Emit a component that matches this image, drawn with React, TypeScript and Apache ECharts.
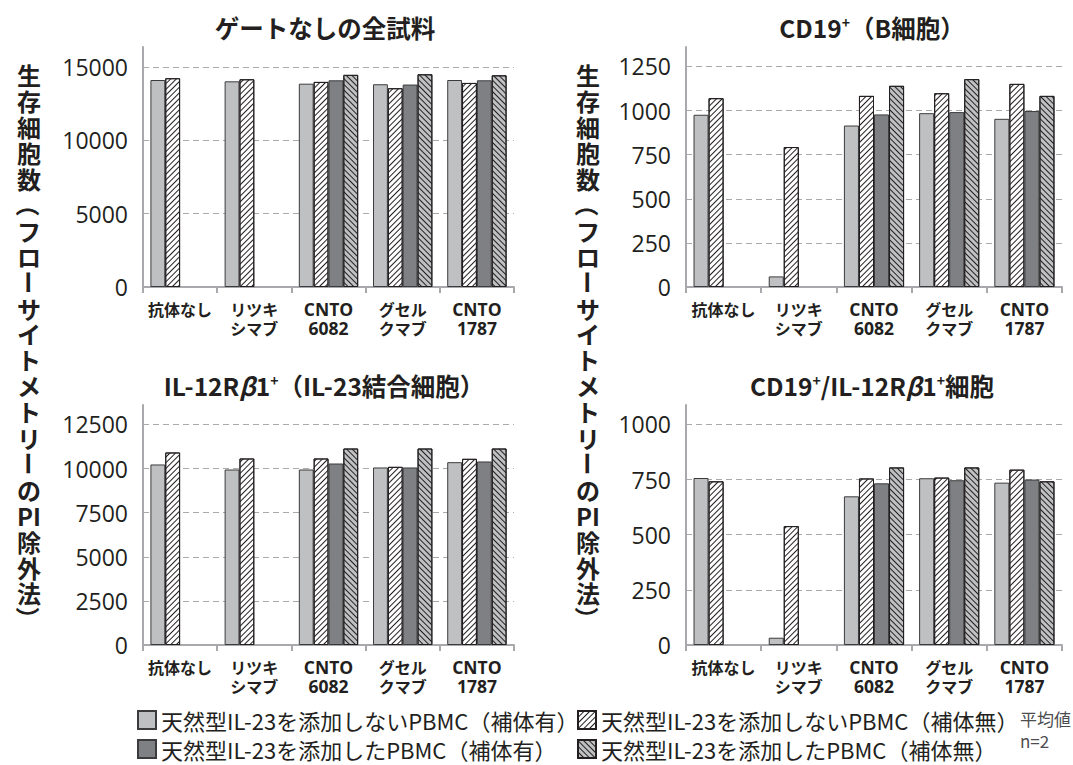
import React, { useEffect, useRef } from 'react';
import * as echarts from 'echarts';

// ---------- data ----------
const categories = ['抗体なし', 'リツキ\nシマブ', 'CNTO\n6082', 'グセル\nクマブ', 'CNTO\n1787'];

const seriesNames = [
  '天然型IL-23を添加しないPBMC（補体有）',
  '天然型IL-23を添加しないPBMC（補体無）',
  '天然型IL-23を添加したPBMC（補体有）',
  '天然型IL-23を添加したPBMC（補体無）',
];

const panelTitles = [
  'ゲートなしの全試料',
  'CD19{sup|+}（B細胞）',
  'IL-12R{b|β}1{sup|+}（IL-23結合細胞）',
  'CD19{sup|+}/IL-12R{b|β}1{sup|+}細胞',
];

// Panel 1: ゲートなしの全試料
const allNoIL23Comp = [14110, 14020, 13860, 13820, 14110];
const allNoIL23NoComp = [14230, 14160, 13980, 13550, 13910];
const allIL23Comp = [null, null, 14090, 13800, 14090];
const allIL23NoComp = [null, null, 14460, 14500, 14430];

// Panel 2: CD19+ (B細胞)
const cd19NoIL23Comp = [976, 60, 915, 985, 953];
const cd19NoIL23NoComp = [1070, 793, 1083, 1098, 1151];
const cd19IL23Comp = [null, null, 978, 991, 997];
const cd19IL23NoComp = [null, null, 1140, 1178, 1083];

// Panel 3: IL-12Rβ1+ (IL-23結合細胞)
const il12NoIL23Comp = [10230, 9945, 9945, 10060, 10360];
const il12NoIL23NoComp = [10910, 10570, 10570, 10095, 10550];
const il12IL23Comp = [null, null, 10285, 10060, 10400];
const il12IL23NoComp = [null, null, 11135, 11135, 11135];

// Panel 4: CD19+/IL-12Rβ1+細胞
const dblNoIL23Comp = [757, 33, 674, 756, 736];
const dblNoIL23NoComp = [742, 539, 755, 759, 795];
const dblIL23Comp = [null, null, 733, 747, 750];
const dblIL23NoComp = [null, null, 805, 805, 742];

const yMax = [16360, 1360, 13600, 1088];
const yInterval = [5000, 250, 2500, 250];

// vertical axis name, one entry per line (true = glyph rotated for vertical writing)
const yAxisName: [string, boolean][] = [
  ['生', false], ['存', false], ['細', false], ['胞', false], ['数', false],
  ['（', true], ['フ', false], ['ロ', false], ['ー', true], ['サ', false],
  ['イ', false], ['ト', false], ['メ', false], ['ト', false], ['リ', false],
  ['ー', true], ['の', false], ['PI', false], ['除', false], ['外', false],
  ['法', false], ['）', true],
];

const panelData = [
  [allNoIL23Comp, allNoIL23NoComp, allIL23Comp, allIL23NoComp],
  [cd19NoIL23Comp, cd19NoIL23NoComp, cd19IL23Comp, cd19IL23NoComp],
  [il12NoIL23Comp, il12NoIL23NoComp, il12IL23Comp, il12IL23NoComp],
  [dblNoIL23Comp, dblNoIL23NoComp, dblIL23Comp, dblIL23NoComp],
];

// ---------- layout / style ----------
const FONT = '"Noto Sans CJK JP", "Noto Sans", sans-serif';
const LATIN = '"Open Sans", "Noto Sans CJK JP", sans-serif';
const TEXT = '#231f20';
const AXIS = '#a7a9ac';

const grids = [
  { left: 143, top: 47, width: 371, height: 240 },
  { left: 686, top: 47, width: 376, height: 240 },
  { left: 143, top: 405, width: 371, height: 240 },
  { left: 686, top: 405, width: 376, height: 240 },
];
const titlePos = [
  [325, 27],
  [872, 27],
  [324, 385],
  [872, 385],
];

const hatchFwd = {
  symbol: 'rect',
  symbolSize: 1,
  dashArrayX: [1, 0],
  dashArrayY: [1, 3],
  rotation: -Math.PI / 4,
  color: '#231f20',
};
const hatchBack = { ...hatchFwd, rotation: Math.PI / 4 };

const seriesStyles = [
  { color: '#bfc0c2', borderColor: '#3b3b3d', borderWidth: 1 },
  { color: '#ffffff', borderColor: '#231f20', borderWidth: 1, decal: hatchFwd },
  { color: '#7f8083', borderColor: '#3b3b3d', borderWidth: 1 },
  { color: '#bfc0c2', borderColor: '#231f20', borderWidth: 1, decal: hatchBack },
];

function buildOption() {
  const xAxis = grids.map((_, i) => ({
    type: 'category',
    gridIndex: i,
    data: categories,
    axisLine: { show: true, lineStyle: { color: AXIS, width: 2 } },
    axisTick: { show: true, length: 6, lineStyle: { color: AXIS, width: 2 } },
    axisLabel: {
      color: TEXT,
      margin: 12,
      interval: 0,
      formatter: (v: string) =>
        v
          .split('\n')
          .map((line) => (/^[A-Z0-9]+$/.test(line) ? `{l|${line}}` : `{j|${line}}`))
          .join('\n'),
      rich: {
        l: { fontFamily: LATIN, fontSize: 17.5, fontWeight: 'bold', color: TEXT, lineHeight: 19 },
        j: { fontFamily: FONT, fontSize: 16, fontWeight: 'bold', color: TEXT, lineHeight: 19 },
      },
    },
  }));
  const yAxis = grids.map((_, i) => ({
    type: 'value',
    gridIndex: i,
    min: 0,
    max: yMax[i],
    interval: yInterval[i],
    axisLine: { show: true, lineStyle: { color: AXIS, width: 2 } },
    axisTick: { show: false },
    axisLabel: {
      fontFamily: LATIN,
      fontSize: 23,
      color: TEXT,
      margin: 15,
      showMaxLabel: false,
      formatter: (v: number) => String(v),
    },
    splitLine: {
      show: true,
      showMaxLine: false,
      lineStyle: { color: '#a9aaac', type: [6, 4], width: 1 },
    },
  }));
  const series: any[] = [];
  panelData.forEach((panel, gi) => {
    panel.forEach((vals, si) => {
      series.push({
        type: 'bar',
        name: seriesNames[si],
        xAxisIndex: gi,
        yAxisIndex: gi,
        data: vals.map((v) => (v === null ? '-' : v)),
        barGap: '0%',
        barCategoryGap: '20%',
        itemStyle: seriesStyles[si],
        emphasis: { disabled: true },
      });
    });
  });

  const graphic: any[] = [];
  panelTitles.forEach((t, i) => {
    graphic.push({
      type: 'text',
      x: titlePos[i][0],
      y: titlePos[i][1],
      style: {
        text: t,
        align: 'center',
        verticalAlign: 'middle',
        fontFamily: FONT,
        fontSize: 24.5,
        fontWeight: 'bold',
        fill: TEXT,
        rich: {
          sup: { fontSize: 14, fontWeight: 'bold', verticalAlign: 'top', lineHeight: 14, fill: TEXT, fontFamily: FONT },
          b: { fontSize: 24.5, fontWeight: 'bold', fontStyle: 'italic', fill: TEXT, fontFamily: FONT },
        },
      },
    });
  });
  const lineH = 25.9;
  [29, 588].forEach((x) => {
    yAxisName.forEach(([ch, rot], k) => {
      graphic.push({
        type: 'text',
        x,
        y: 62 + lineH * (k + 0.5),
        rotation: rot ? -Math.PI / 2 : 0,
        style: {
          text: ch,
          align: 'center',
          verticalAlign: 'middle',
          fontFamily: FONT,
          fontSize: 24,
          lineHeight: 24,
          fontWeight: 'bold',
          fill: TEXT,
        },
      });
    });
  });
  graphic.push({
    type: 'text',
    x: 1020,
    y: 707,
    style: {
      text: '平均値\nn=2',
      align: 'left',
      verticalAlign: 'top',
      fontFamily: FONT,
      fontSize: 17,
      lineHeight: 22,
      fill: '#4d4d4f',
    },
  });

  const legendCommon = {
    type: 'plain',
    orient: 'vertical',
    top: 709,
    height: 54,
    padding: 0,
    itemWidth: 18,
    itemHeight: 18,
    itemGap: 7,
    icon: 'rect',
    selectedMode: false,
    textStyle: { fontFamily: FONT, fontSize: 22, color: TEXT, lineHeight: 22 },
  };

  return {
    animation: false,
    backgroundColor: '#ffffff',
    textStyle: { fontFamily: FONT },
    grid: grids,
    xAxis,
    yAxis,
    series,
    legend: [
      { ...legendCommon, left: 137, data: [seriesNames[0], seriesNames[2]] },
      { ...legendCommon, left: 577, data: [seriesNames[1], seriesNames[3]] },
    ],
    graphic,
  };
}

export default function App() {
  const ref = useRef<HTMLDivElement>(null);
  useEffect(() => {
    const chart = echarts.init(ref.current as HTMLDivElement, null, { renderer: 'svg' });
    chart.setOption(buildOption() as any);
    return () => chart.dispose();
  }, []);
  return (
    <div
      ref={ref}
      style={{ position: 'fixed', left: 0, top: 0, width: 1073, height: 765, background: '#fff' }}
    />
  );
}
